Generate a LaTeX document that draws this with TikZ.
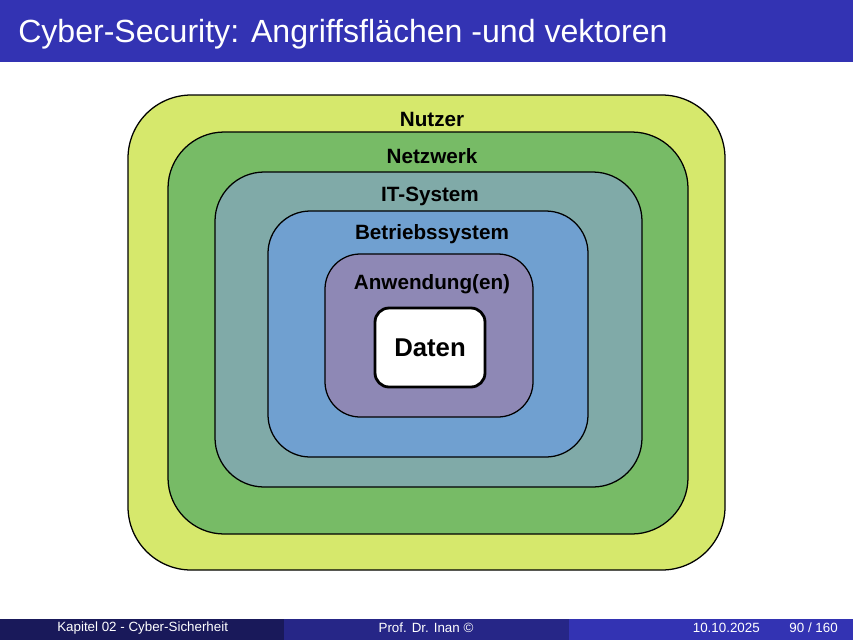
\documentclass[tikz,border=0pt]{standalone}
\usepackage{fontspec}
\setmainfont{Liberation Sans}
\usepackage{xcolor}
\definecolor{barblue}{RGB}{51,51,179}
\definecolor{footA}{RGB}{25,25,90}
\definecolor{footB}{RGB}{38,38,135}
\definecolor{nutzerc}{RGB}{214,232,108}
\definecolor{netzc}{RGB}{119,187,102}
\definecolor{itc}{RGB}{128,170,168}
\definecolor{bsc}{RGB}{112,160,208}
\definecolor{appc}{RGB}{142,136,181}
\begin{document}
\begin{tikzpicture}[x=0.025cm, y=-0.025cm,
    layer/.style={draw=black, line width=0.9pt},
    lbl/.style={font=\fontsize{14.7}{17}\selectfont\bfseries},
    foot/.style={font=\fontsize{9.5}{11}\selectfont, text=white}
  ]
  \useasboundingbox (0,0) rectangle (853,640);
  % Title bar
  \fill[barblue] (0,0) rectangle (853,62);
  \node[anchor=west, inner sep=0pt, text=white, font=\fontsize{22.8}{26}\selectfont] (title) at (18,34) {Cyber-Security: Angriffsflächen -und vektoren};

  % Layers
  \draw[layer, fill=nutzerc, rounded corners=45] (128,95) rectangle (725,570);
  \draw[layer, fill=netzc, rounded corners=40] (168,132) rectangle (688,534);
  \draw[layer, fill=itc, rounded corners=35] (215,172) rectangle (642,487);
  \draw[layer, fill=bsc, rounded corners=30] (268,211) rectangle (588,457);
  \draw[layer, fill=appc, rounded corners=25] (325,254) rectangle (533,417);
  \draw[draw=black, line width=2pt, fill=white, rounded corners=10] (375,308) rectangle (485,387);

  % Labels
  \node[lbl] (nutzer) at (432,119) {Nutzer};
  \node[lbl] (netz) at (432,156) {Netzwerk};
  \node[lbl] (it) at (430,196) {IT-System};
  \node[lbl] (bs) at (432,234) {Betriebssystem};
  \node[lbl] (app) at (432,284) {Anwendung(en)};
  \node[font=\fontsize{18.3}{21}\selectfont\bfseries] (daten) at (430,348) {Daten};

  % Footer
  \fill[footA] (0,619) rectangle (284,640);
  \fill[footB] (284,619) rectangle (569,640);
  \fill[barblue] (569,619) rectangle (853,640);
  \node[foot, anchor=west, inner sep=0pt] (kap) at (57,628) {Kapitel 02 - Cyber-Sicherheit};
  \node[foot] (prof) at (426,628) {Prof. Dr. Inan ©};
  \node[foot, anchor=east, inner sep=0pt] (datum) at (760,628) {10.10.2025};
  \node[foot, anchor=east, inner sep=0pt] (seite) at (838,628) {90 / 160};
\end{tikzpicture}
\end{document}
